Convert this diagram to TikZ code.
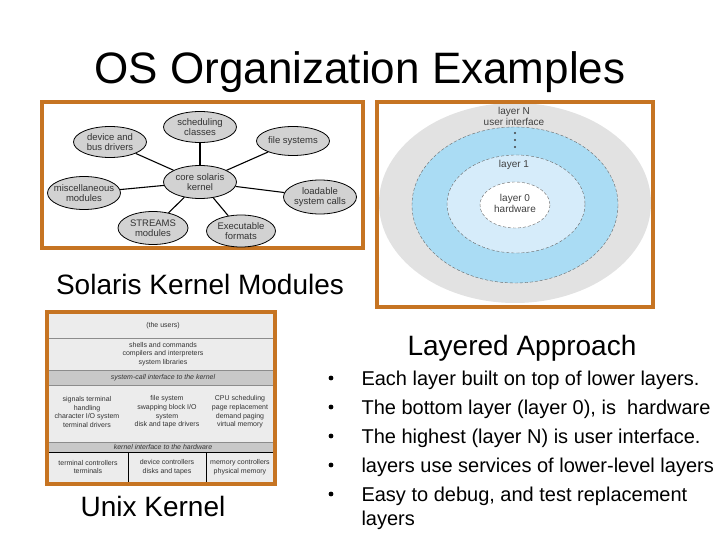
\documentclass[tikz,border=0pt]{standalone}
\usepackage{fontspec}
\setmainfont{Liberation Sans}
\usetikzlibrary{shapes.geometric}
\definecolor{framec}{RGB}{198,116,34}
\definecolor{modgray}{RGB}{210,210,210}
\definecolor{outergray}{RGB}{226,226,226}
\definecolor{bluemid}{RGB}{170,220,244}
\definecolor{bluelight}{RGB}{214,236,250}
\definecolor{rowgray}{RGB}{236,236,236}
\definecolor{bandgray}{RGB}{200,200,200}
\tikzset{
  frm/.style={draw=framec, line width=4pt},
  module/.style={ellipse, draw=black, fill=modgray, line width=0.8pt, inner sep=0pt, minimum width=73, minimum height=31},
  modtext/.style={font=\fontsize{9.5}{10.5}\selectfont, text=black!80, inner sep=0pt},
  tbl/.style={font=\fontsize{7}{8.6}\selectfont, text=black!80},
  big/.style={font=\fontsize{28}{32}\selectfont, anchor=base},
  bul/.style={font=\fontsize{20}{24}\selectfont, anchor=base west}
}

\begin{document}
\begin{tikzpicture}[x=1pt, y=-1pt, every node/.style={align=center}]
    \useasboundingbox (0,0) rectangle (720,540);

    % Title
    \node[font=\fontsize{44}{50}\selectfont, anchor=base] (title) at (360,84) {OS Organization Examples};

    % Solaris kernel modules
    \draw[frm] (42,102) rectangle (363,248);
    \node[module, minimum height=33, label={[modtext]center:core solaris\\kernel}] (core) at (200,182) {};
    \node[module, label={[modtext]center:scheduling\\classes}] (sched) at (200,127) {};
    \node[module, label={[modtext]center:device and\\bus drivers}] (drivers) at (110,142) {};
    \node[module, minimum height=29, label={[modtext]center:file systems}] (fs) at (293,141) {};
    \node[module, minimum height=33, label={[modtext]center:miscellaneous\\modules}] (misc) at (84,193) {};
    \node[module, minimum height=34, label={[modtext]center:loadable\\system calls}] (loadable) at (320,197) {};
    \node[module, minimum width=70, minimum height=33, label={[modtext]center:STREAMS\\modules}] (streams) at (153,228) {};
    \node[module, minimum width=69, minimum height=32, label={[modtext]center:Executable\\formats}] (exec) at (241,231) {};
    \foreach \m in {sched, drivers, fs, misc, loadable, streams, exec} {
        \draw[line width=1.1pt] (core) -- (\m);
    }
    \node[big] (solaris) at (200,294) {Solaris Kernel Modules};

    % Layered approach
    \fill[outergray] (515,203) ellipse [x radius=136, y radius=100];
    \draw[black!60, densely dashed, thin, fill=bluemid] (515,205) ellipse [x radius=103, y radius=78];
    \draw[black!60, densely dashed, thin, fill=bluelight] (516,204) ellipse [x radius=69, y radius=49];
    \draw[black!60, densely dashed, thin, fill=white] (515,205) ellipse [x radius=35, y radius=23];
    \draw[frm] (377,102) rectangle (653,307);
    \node[font=\fontsize{10}{11}\selectfont, text=black!75] (layerN) at (514,116) {layer N\\user interface};
    \foreach \y in {133,140,147} {
        \fill[black!75] (515,\y) circle (1.2);
    }
    \node[font=\fontsize{10}{11}\selectfont, text=black!75] (layer1) at (514,165) {layer 1};
    \node[font=\fontsize{10}{11}\selectfont, text=black!75] (layer0) at (515,203) {layer 0\\hardware};
    \node[big] (layered) at (522,355) {Layered Approach};

    % Unix kernel table
    \fill[rowgray] (49,314) rectangle (273,482);
    \fill[bandgray] (49,370) rectangle (273,385);
    \fill[bandgray] (49,442) rectangle (273,452);
    \foreach \y in {338,370,385,442} {
        \draw[black!45, thin] (49,\y) -- (273,\y);
    }
    \draw[black, line width=1pt] (49,452) -- (273,452);
    \draw[black, line width=0.8pt] (128,452) -- (128,482);
    \draw[black, line width=0.8pt] (206,452) -- (206,482);
    \draw[frm] (47,312) rectangle (275,484);
    \node[tbl] (users) at (163,326) {(the users)};
    \node[tbl] (shells) at (163,354) {shells and commands\\compilers and interpreters\\system libraries};
    \node[tbl, font=\fontsize{7}{8.6}\selectfont\itshape] (syscall) at (163,377.5) {system-call interface to the kernel};
    \node[tbl] (signals) at (87,412) {signals terminal\\handling\\character I/O system\\terminal drivers};
    \node[tbl] (filesys) at (167,412) {file system\\swapping block I/O\\system\\disk and tape drivers};
    \node[tbl] (cpu) at (240,412) {CPU scheduling\\page replacement\\demand paging\\virtual memory};
    \node[tbl, font=\fontsize{7}{8.6}\selectfont\itshape] (kiface) at (163,447) {kernel interface to the hardware};
    \node[tbl] (termctl) at (88,467) {terminal controllers\\terminals};
    \node[tbl] (devctl) at (167,467) {device controllers\\disks and tapes};
    \node[tbl] (memctl) at (240,467) {memory controllers\\physical memory};
    \node[big] (unix) at (153,516) {Unix Kernel};

    % Bullets
    \foreach \t [count=\i] in {Each layer built on top of lower layers.,
        {The bottom layer (layer 0), is \ hardware},
        The highest (layer N) is user interface.,
        layers use services of lower-level layers,
        {Easy to debug, and test replacement}} {
        \node[bul] (item\i) at (358,356+29*\i) {\t};
        \fill (331,349+29*\i) circle (2.4);
    }
    \node[bul] (item6) at (358,525) {layers};
\end{tikzpicture}
\end{document}
